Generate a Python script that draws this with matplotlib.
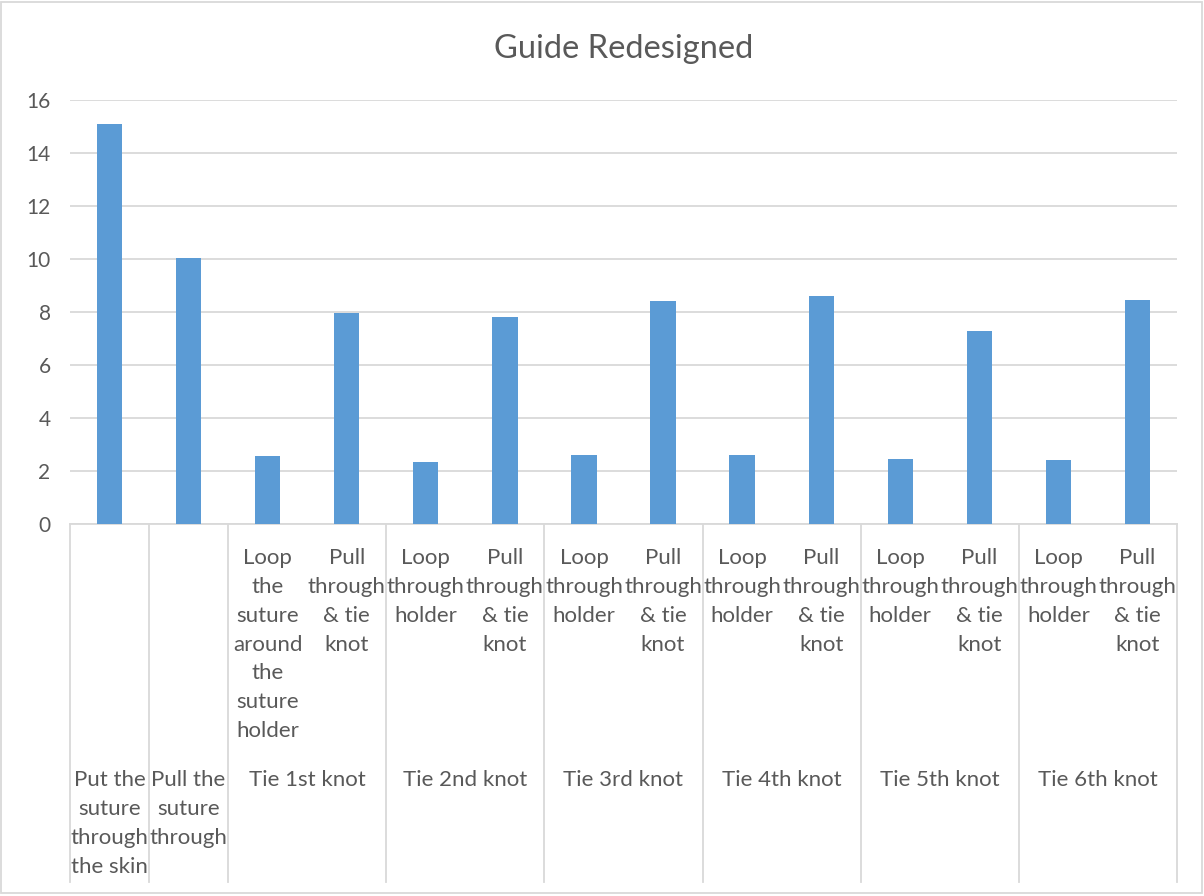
import numpy as np
import matplotlib.pyplot as plt
from matplotlib.patches import Rectangle

# data
steps = ["", "",
         "Loop\nthe\nsuture\naround\nthe\nsuture\nholder", "Pull\nthrough\n& tie\nknot",
         "Loop\nthrough\nholder", "Pull\nthrough\n& tie\nknot",
         "Loop\nthrough\nholder", "Pull\nthrough\n& tie\nknot",
         "Loop\nthrough\nholder", "Pull\nthrough\n& tie\nknot",
         "Loop\nthrough\nholder", "Pull\nthrough\n& tie\nknot",
         "Loop\nthrough\nholder", "Pull\nthrough\n& tie\nknot"]
groups = ["Put the\nsuture\nthrough\nthe skin", "Pull the\nsuture\nthrough",
          "Tie 1st knot", "Tie 2nd knot", "Tie 3rd knot",
          "Tie 4th knot", "Tie 5th knot", "Tie 6th knot"]
group_sizes = [1, 1, 2, 2, 2, 2, 2, 2]
times = [15.1, 10.05, 2.55, 7.95, 2.35, 7.8, 2.6, 8.4, 2.6, 8.6, 2.45, 7.3, 2.4, 8.45]

plt.rcParams["font.family"] = ["Lato", "DejaVu Sans"]
txt = "#595959"
grid = "#d9d9d9"

fig = plt.figure(figsize=(12.04, 8.96), dpi=100)
ax = fig.add_axes([0.0581, 0.4152, 0.9195, 0.4732])

x = np.arange(len(times))
ax.bar(x, times, width=0.32, color="#5b9bd5", zorder=3)
ax.set_xlim(-0.5, len(times) - 0.5)
ax.set_ylim(0, 16)
ax.set_yticks(range(0, 17, 2))
ax.tick_params(axis="y", length=0, labelsize=15, labelcolor=txt, pad=14)
ax.set_xticks([])
ax.grid(axis="y", color=grid, linewidth=1.3, zorder=0)
for s in ["top", "right", "left"]:
    ax.spines[s].set_visible(False)
ax.spines["bottom"].set_color(grid)
ax.spines["bottom"].set_linewidth(1.3)

ax.set_title("Guide Redesigned", fontsize=23.5, color=txt, pad=30)

tr = ax.get_xaxis_transform()
bottom = -0.844

# step labels (upper row)
for i, lab in enumerate(steps):
    if lab:
        ax.text(i, -0.057, lab, transform=tr, ha="center", va="top",
                fontsize=16, color=txt, linespacing=1.55)

# group labels (lower row) and separators
edges = np.concatenate([[0], np.cumsum(group_sizes)]) - 0.5
for g, lab in enumerate(groups):
    centre = (edges[g] + edges[g + 1]) / 2
    ax.text(centre, -0.581, lab, transform=tr, ha="center", va="top",
            fontsize=16, color=txt, linespacing=1.55)
for e in edges:
    ax.plot([e, e], [0, bottom], transform=tr, color=grid, linewidth=1.3,
            clip_on=False)

# chart border
fig.patches.append(Rectangle((0.001, 0.003), 0.997, 0.995, transform=fig.transFigure,
                             fill=False, edgecolor=grid, linewidth=1.3))

fig.savefig("out.png", dpi=100)
